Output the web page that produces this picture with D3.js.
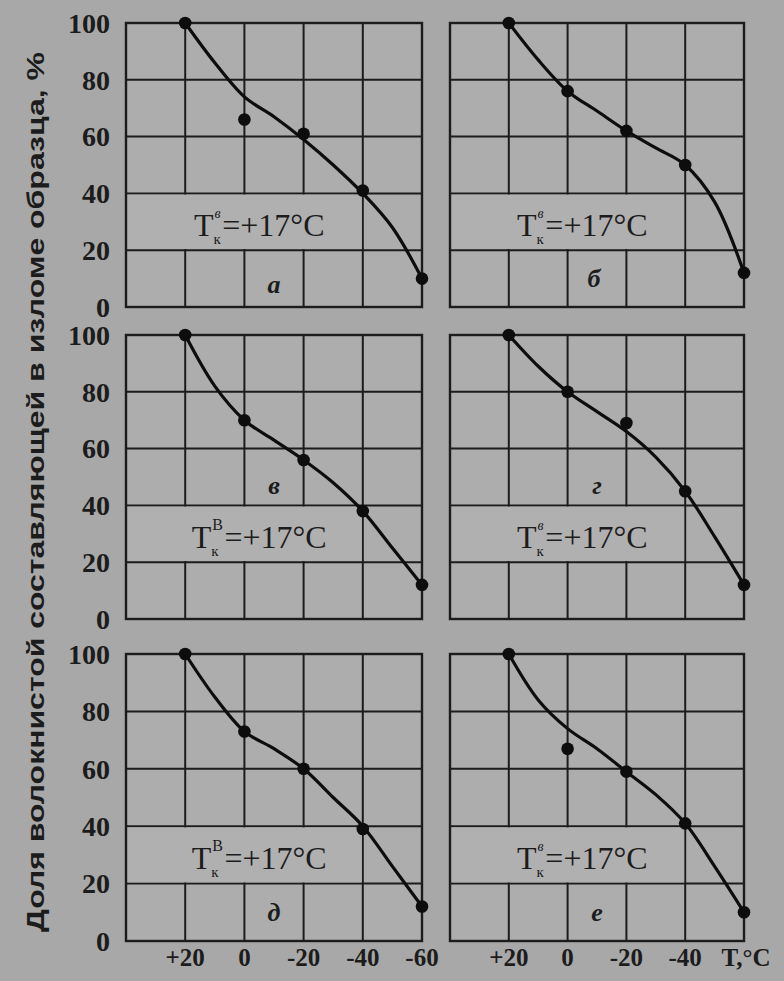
<!DOCTYPE html>
<html>
<head>
<meta charset="utf-8">
<script src="https://cdn.jsdelivr.net/npm/d3@7"></script>
<style>
  html, body { margin: 0; padding: 0; background: #a8a8a8; }
  svg { display: block; }
</style>
</head>
<body>
<svg id="chart" width="784" height="981"></svg>
<script>
// ---------- data ----------
const yTicks = [0, 20, 40, 60, 80, 100];
const xTicks = [20, 0, -20, -40, -60];
const xTickLabelsLeft  = ["+20", "0", "-20", "-40", "-60"];
const xTickLabelsRight = ["+20", "0", "-20", "-40", "T,°C"];
const yAxisTitle = "Доля волокнистой составляющей в изломе образца, %";

// measured points (temperatures = xTicks)
const dotsA = [100, 66, 61, 41, 10];
const dotsB = [100, 76, 62, 50, 12];
const dotsV = [100, 70, 56, 38, 12];
const dotsG = [100, 80, 69, 45, 12];
const dotsD = [100, 73, 60, 39, 12];
const dotsE = [100, 67, 59, 41, 10];

// fitted curves
const curveTemps = [20, 10, 0, -10, -20, -30, -40, -50, -60];
const curveA = [100, 86, 74, 67, 59, 50, 40, 28, 10];
const curveB = [100, 87, 76, 69, 62, 56, 50, 37, 12];
const curveV = [100, 82, 70, 63, 56, 48, 38, 25, 12];
const curveG = [100, 89, 80, 73, 66, 57, 45, 29, 12];
const curveD = [100, 85, 73, 67, 60, 50, 40, 26, 12];
const curveE = [100, 84, 74, 67, 59, 51, 41, 26, 10];

const panelLetters = ["а", "б", "в", "г", "д", "е"];
const supLetters   = ["в", "в", "В", "в", "В", "в"];
const noteText = "=+17°C";

// ---------- layout ----------
const rows = [[23, 307], [335, 619], [654, 941]];
const cols = [[126, 422], [450, 744]];
const letterPos = [[-10, 5], [-9, 7], [-10, 44], [-10, 44], [-10, 7], [-10, 7]];

const panels = [
  {dots: dotsA, curve: curveA, r: 0, c: 0},
  {dots: dotsB, curve: curveB, r: 0, c: 1},
  {dots: dotsV, curve: curveV, r: 1, c: 0},
  {dots: dotsG, curve: curveG, r: 1, c: 1},
  {dots: dotsD, curve: curveD, r: 2, c: 0},
  {dots: dotsE, curve: curveE, r: 2, c: 1}
];

const svg = d3.select("#chart");
const ink = "#1c1c1c";

panels.forEach((p, i) => {
  const [top, bottom] = rows[p.r];
  const [left, right] = cols[p.c];
  const x = d3.scaleLinear().domain([40, -60]).range([left, right]);
  const y = d3.scaleLinear().domain([0, 100]).range([bottom, top]);
  const g = svg.append("g");

  // inner background
  g.append("rect").attr("x", left).attr("y", top)
    .attr("width", right - left).attr("height", bottom - top)
    .attr("fill", "#adadad");

  // grid
  g.selectAll(".vg").data(xTicks.slice(0, 4)).join("line")
    .attr("x1", d => x(d)).attr("x2", d => x(d))
    .attr("y1", top).attr("y2", bottom)
    .attr("stroke", ink).attr("stroke-width", 2);
  g.selectAll(".hg").data(yTicks.slice(1, 5)).join("line")
    .attr("x1", left).attr("x2", right)
    .attr("y1", d => y(d)).attr("y2", d => y(d))
    .attr("stroke", ink).attr("stroke-width", 2);

  // label box (covers vertical grid lines in the 20-40 band)
  g.append("rect")
    .attr("x", x(40) + 1).attr("y", y(40) + 1.2)
    .attr("width", x(-40) - x(40) - 2).attr("height", y(20) - y(40) - 2.4)
    .attr("fill", "#b0b0b0");

  // frame
  g.append("rect").attr("x", left).attr("y", top)
    .attr("width", right - left).attr("height", bottom - top)
    .attr("fill", "none").attr("stroke", ink).attr("stroke-width", 2.4);

  // curve
  const pts = curveTemps.map((t, k) => [t, p.curve[k]]);
  g.append("path").datum(pts)
    .attr("d", d3.line().x(d => x(d[0])).y(d => y(d[1])).curve(d3.curveCatmullRom.alpha(0.5)))
    .attr("fill", "none").attr("stroke", "#0d0d0d").attr("stroke-width", 3.2)
    .attr("stroke-linejoin", "round");

  // dots
  g.selectAll(".dot").data(xTicks.map((t, k) => [t, p.dots[k]])).join("circle")
    .attr("cx", d => x(d[0])).attr("cy", d => y(d[1])).attr("r", 6.3)
    .attr("fill", "#0d0d0d");

  // note: T_к^в=+17°C
  const note = g.append("g");
  const fs = 32;
  const tT = note.append("text").attr("x", 0).attr("y", 0)
    .attr("font-family", "Liberation Serif").attr("font-size", fs).attr("fill", ink).text("T");
  const tw = tT.node().getComputedTextLength();
  const sub = note.append("text").attr("x", tw).attr("y", 8)
    .attr("font-family", "Liberation Serif").attr("font-size", 15).attr("fill", ink).text("к");
  const sup = note.append("text").attr("x", tw + 1).attr("y", -18)
    .attr("font-family", "Liberation Serif").attr("font-size", supLetters[i] === "В" ? 16 : 14)
    .attr("font-style", supLetters[i] === "В" ? "normal" : "italic")
    .attr("fill", ink).text(supLetters[i]);
  const sw = Math.max(sub.node().getComputedTextLength(), sup.node().getComputedTextLength() + 1);
  const rest = note.append("text").attr("x", tw + sw + 1.5).attr("y", 0)
    .attr("font-family", "Liberation Serif").attr("font-size", fs).attr("fill", ink).text(noteText);
  const total = tw + sw + 1.5 + rest.node().getComputedTextLength();
  note.attr("transform", `translate(${x(-5) - total / 2},${y(25)})`);

  // panel letter
  g.append("text")
    .attr("x", x(letterPos[i][0])).attr("y", y(letterPos[i][1]))
    .attr("text-anchor", "middle")
    .attr("font-family", "Liberation Serif").attr("font-style", "italic").attr("font-weight", "bold")
    .attr("font-size", 26).attr("fill", ink).text(panelLetters[i]);

  // y tick labels for left column
  if (p.c === 0) {
    g.selectAll(".yt").data(yTicks).join("text")
      .attr("x", 110).attr("y", d => y(d))
      .attr("dy", "0.35em").attr("text-anchor", "end")
      .attr("font-family", "Liberation Serif").attr("font-weight", "bold")
      .attr("font-size", 28).attr("fill", ink)
      .text(d => d);
  }
  // x tick labels for bottom row
  if (p.r === 2) {
    const labels = p.c === 0 ? xTickLabelsLeft : xTickLabelsRight;
    g.selectAll(".xt").data(xTicks).join("text")
      .attr("x", (d, k) => (p.c === 1 && k === 4) ? x(d) + 2 : x(d))
      .attr("y", 966)
      .attr("text-anchor", "middle")
      .attr("font-family", "Liberation Serif").attr("font-weight", "bold")
      .attr("font-size", 25).attr("fill", ink)
      .text((d, k) => labels[k]);
  }
});

// y axis title
svg.append("text")
  .attr("transform", "translate(44,492) rotate(-90)")
  .attr("text-anchor", "middle")
  .attr("font-family", "Liberation Sans").attr("font-weight", "bold")
  .attr("font-size", 24).attr("fill", ink)
  .attr("textLength", 880).attr("lengthAdjust", "spacingAndGlyphs")
  .text(yAxisTitle);
</script>
</body>
</html>
